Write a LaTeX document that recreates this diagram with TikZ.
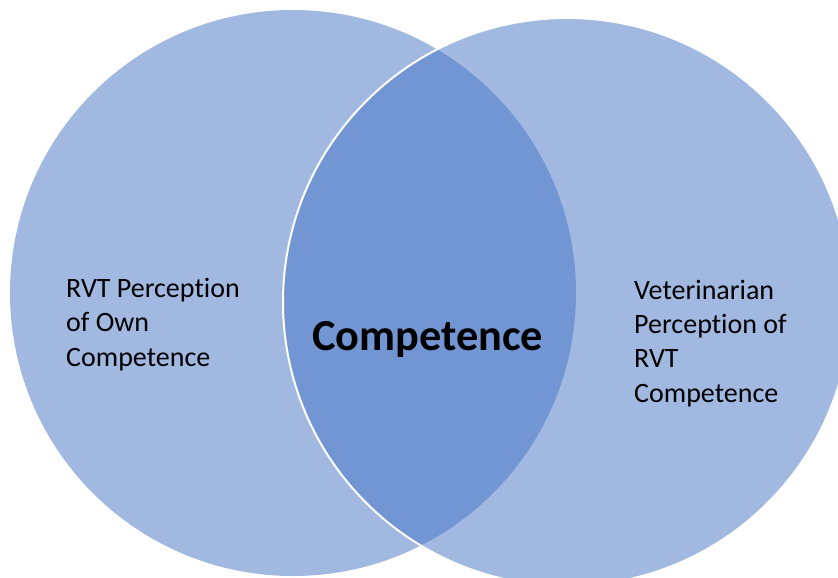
\documentclass[tikz,border=0pt]{standalone}
\usepackage{fontspec}
\setmainfont{Carlito}[Ligatures=NoCommon]
\usepackage{tikz}
\definecolor{vennblue}{HTML}{4472C4}
\tikzset{
  venn/.style={fill=vennblue, fill opacity=0.5, draw=none},
  sidetext/.style={anchor=base west, align=left, inner sep=0pt,
    font=\fontsize{23.9}{29.3}\selectfont},
}

\begin{document}
\begin{tikzpicture}[x=0.03cm, y=-0.03cm]
			%%%%% START %%%%%
			\useasboundingbox (0, 0) rectangle (838, 577);
			
			\fill[venn] (293, 293) circle (283);
			\fill[venn] (567, 302) circle (284);
			\draw[white, line width=0.6mm] (567, 302) circle (284);
			
			% anchor sits on the last line of each block
			\node[sidetext] (rvtown) at (66, 366)
				{RVT Perception\\of Own\\Competence};
			\node[sidetext] (vetrvt) at (634, 402)
				{Veterinarian\\Perception of\\RVT\\Competence};
			\node[anchor=base west, inner sep=0pt,
				font=\fontsize{37.8}{44}\selectfont\bfseries] (overlap) at (312, 350) {Competence};
			
			%%%%% END %%%%%
\end{tikzpicture}
\end{document}
